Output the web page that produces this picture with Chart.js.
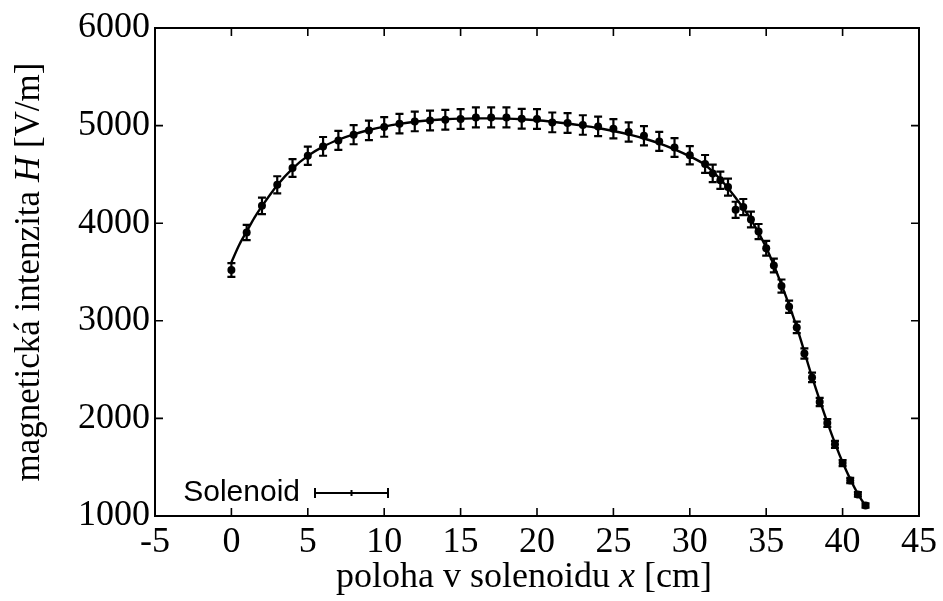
<!DOCTYPE html>
<html>
<head>
<meta charset="utf-8">
<script src="https://cdn.jsdelivr.net/npm/chart.js@4/dist/chart.umd.min.js"></script>
<style>
html,body{margin:0;padding:0;background:#fff;}
#wrap{width:943px;height:601px;}
</style>
</head>
<body>
<div id="wrap"><canvas id="c" width="943" height="601"></canvas></div>
<script>
// ---- data ----
const posX = [0,1,2,3,4,5,6,7,8,9,10,11,12,13,14,15,16,17,18,19,20,21,22,23,24,25,26,27,28,29,30,31,
  31.5,32,32.5,33,33.5,34,34.5,35,35.5,36,36.5,37,37.5,38,38.5,39,39.5,40,40.5,41,41.5];
const fieldH = [3521,3904,4178,4393,4565,4691,4787,4848,4907,4951,4986,5020,5043,5053,5060,5068,5084,5084,5084,5071,5068,5033,5027,5006,4992,4968,4934,4896,4838,4776,4696,4607,
  4510,4440,4370,4137,4165,4038,3914,3743,3567,3356,3144,2932,2665,2420,2168,1953,1734,1542,1364,1221,1108];
const fieldErr = [70,78,84,88,91,94,96,97,98,99,100,100,101,101,101,101,102,102,102,101,101,101,101,100,100,99,99,98,97,96,94,92,
  90,89,87,83,83,81,78,75,71,67,63,59,53,48,43,39,35,31,27,24,22];
const fitX = [0,0.5,1,1.5,2,3,4,5,6,7,8,9,10,11,12,13,14,15,16,17,18,19,20,21,22,23,24,25,26,27,28,29,30,31,32,33,34,35,36,37,38,39,40,41,41.5];
const fitH = [3600,3775,3915,4055,4175,4390,4560,4690,4785,4855,4910,4955,4990,5018,5040,5055,5065,5071,5074,5074,5071,5065,5055,5040,5022,5000,4975,4945,4910,4868,4818,4757,4685,4597,4450,4260,4040,3750,3370,2935,2425,1960,1550,1225,1105];
const xTickStep = 5, xMin = -5, xMax = 45;
const yTickStep = 1000, yMin = 1000, yMax = 6000;
const legendLabel = 'Solenoid';
const xTitle = ['poloha v solenoidu ', 'x', ' [cm]'];
const yTitle = ['magnetická intenzita ', 'H', ' [V/m]'];

const SERIF = '"Liberation Serif", "DejaVu Serif", serif';
const SANS = '"Liberation Sans", "DejaVu Sans", sans-serif';

const measured = posX.map((x, i) => ({x: x, y: fieldH[i]}));
const fitted = fitX.map((x, i) => ({x: x, y: fitH[i]}));

function drawMixed(ctx, parts, cx, cy, size) {
  const fonts = parts.map((p, i) => (i === 1 ? 'italic ' : '') + size + 'px ' + SERIF);
  let total = 0;
  const widths = parts.map((p, i) => { ctx.font = fonts[i]; const w = ctx.measureText(p).width; total += w; return w; });
  let x = cx - total / 2;
  ctx.textAlign = 'left';
  ctx.textBaseline = 'middle';
  parts.forEach((p, i) => { ctx.font = fonts[i]; ctx.fillText(p, x, cy); x += widths[i]; });
}

const decor = {
  id: 'decor',
  beforeDraw(chart) {
    const ctx = chart.ctx;
    ctx.save(); ctx.fillStyle = '#fff'; ctx.fillRect(0, 0, chart.width, chart.height); ctx.restore();
  },
  beforeDatasetsDraw(chart) {
    const ctx = chart.ctx, xs = chart.scales.x, ys = chart.scales.y;
    ctx.save();
    ctx.strokeStyle = '#000';
    ctx.lineWidth = 2.2;
    const cap = 4;
    posX.forEach((x, i) => {
      const px = xs.getPixelForValue(x);
      const top = ys.getPixelForValue(fieldH[i] + fieldErr[i]);
      const bot = ys.getPixelForValue(fieldH[i] - fieldErr[i]);
      ctx.beginPath();
      ctx.moveTo(px, top); ctx.lineTo(px, bot);
      ctx.moveTo(px - cap, top); ctx.lineTo(px + cap, top);
      ctx.moveTo(px - cap, bot); ctx.lineTo(px + cap, bot);
      ctx.stroke();
    });
    ctx.restore();
  },
  afterDraw(chart) {
    const ctx = chart.ctx, a = chart.chartArea, xs = chart.scales.x, ys = chart.scales.y;
    ctx.save();
    ctx.strokeStyle = '#000';
    ctx.lineWidth = 2;
    ctx.strokeRect(a.left, a.top, a.right - a.left, a.bottom - a.top);
    const tl = 8;
    ctx.lineWidth = 1.6;
    ctx.beginPath();
    xs.ticks.forEach(t => {
      const px = xs.getPixelForValue(t.value);
      ctx.moveTo(px, a.bottom); ctx.lineTo(px, a.bottom - tl);
      ctx.moveTo(px, a.top); ctx.lineTo(px, a.top + tl);
    });
    ys.ticks.forEach(t => {
      const py = ys.getPixelForValue(t.value);
      ctx.moveTo(a.left, py); ctx.lineTo(a.left + tl, py);
      ctx.moveTo(a.right, py); ctx.lineTo(a.right - tl, py);
    });
    ctx.stroke();

    // legend
    ctx.fillStyle = '#000';
    ctx.font = '30px ' + SANS;
    ctx.textAlign = 'right';
    ctx.textBaseline = 'middle';
    const ly = 493;
    ctx.fillText(legendLabel, 300, ly);
    ctx.lineWidth = 2;
    ctx.beginPath();
    ctx.moveTo(315, ly); ctx.lineTo(388, ly);
    ctx.moveTo(315, ly - 5); ctx.lineTo(315, ly + 5);
    ctx.moveTo(388, ly - 5); ctx.lineTo(388, ly + 5);
    ctx.moveTo(351.5, ly - 3); ctx.lineTo(351.5, ly + 3);
    ctx.stroke();

    // axis titles
    drawMixed(ctx, xTitle, 524, 578, 36);
    ctx.translate(30, (a.top + a.bottom) / 2);
    ctx.rotate(-Math.PI / 2);
    drawMixed(ctx, yTitle, 0, 0, 35);
    ctx.restore();
  }
};

new Chart(document.getElementById('c'), {
  type: 'scatter',
  data: {
    datasets: [
      {
        label: 'fit',
        data: fitted,
        showLine: true,
        borderColor: '#000',
        borderWidth: 2.4,
        pointRadius: 0,
        cubicInterpolationMode: 'monotone',
        fill: false
      },
      {
        label: legendLabel,
        data: measured,
        showLine: false,
        pointRadius: 4,
        pointBackgroundColor: '#000',
        pointBorderColor: '#000',
        pointBorderWidth: 0
      }
    ]
  },
  options: {
    responsive: false,
    animation: false,
    devicePixelRatio: 1,
    layout: {padding: {left: 0, top: 28, right: 24, bottom: 0}},
    plugins: {legend: {display: false}, tooltip: {enabled: false}},
    scales: {
      x: {
        type: 'linear', min: xMin, max: xMax,
        grid: {display: false, drawTicks: false},
        border: {display: false},
        ticks: {stepSize: xTickStep, color: '#000', padding: 5, maxRotation: 0,
          font: {family: SERIF, size: 36}, callback: v => String(v)},
        afterFit: s => { s.height = 85; }
      },
      y: {
        type: 'linear', min: yMin, max: yMax,
        grid: {display: false, drawTicks: false},
        border: {display: false},
        ticks: {stepSize: yTickStep, color: '#000', padding: 5,
          font: {family: SERIF, size: 36}, callback: v => String(v)},
        afterFit: s => { s.width = 155; }
      }
    }
  },
  plugins: [decor]
});
</script>
</body>
</html>
